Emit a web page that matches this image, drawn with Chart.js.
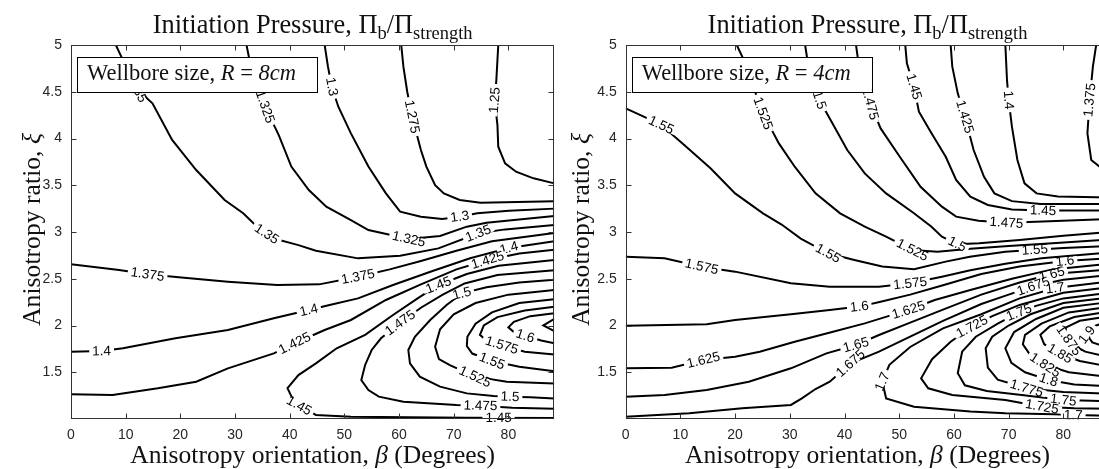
<!DOCTYPE html>
<html>
<head>
<meta charset="utf-8">
<script src="https://cdn.jsdelivr.net/npm/chart.js@4.4.1/dist/chart.umd.min.js"></script>
<style>
    html, body { margin: 0; padding: 0; background: #fff; }
    #wrap { position: relative; width: 1099px; height: 469px; overflow: hidden; }
    canvas { position: absolute; top: 0; }
    #leftChart { left: 0; }
    #rightChart { left: 549px; }
</style>
</head>
<body>
<div id="wrap">
    <canvas id="leftChart" width="560" height="469"></canvas>
    <canvas id="rightChart" width="561" height="469"></canvas>
</div>
<script>
// axes
const xTicks = [0, 10, 20, 30, 40, 50, 60, 70, 80];
const yTicks = [1.5, 2, 2.5, 3, 3.5, 4, 4.5, 5];
const xMin = 0, xMax = 88.4, yMin = 1, yMax = 5;

// Left panel (R = 8cm): contour lines as [beta, xi]
const left_1250 = [[78.15,5],[77.8,4.625],[77.5,4.41],[78.0,4.144],[78.15,3.912],[79.4,3.734],[81.4,3.645],[84.6,3.574],[88.4,3.52]];
const left_1275 = [[60.4,5],[60.8,4.768],[61.5,4.5],[62.4,4.233],[64.0,3.877],[65.0,3.70],[66.6,3.50],[68.2,3.413],[71.1,3.342],[74.9,3.313],[88.4,3.33]];
const left_1300 = [[46.4,5],[47.0,4.768],[47.7,4.554],[48.9,4.34],[51.2,4.055],[54.4,3.70],[57.6,3.413],[60.2,3.217],[64.0,3.164],[67.9,3.139],[71.1,3.164],[74.3,3.20],[80.1,3.228],[88.4,3.25]];
const left_1325 = [[32.1,5],[32.9,4.768],[35.5,4.34],[38.0,4.037],[40.3,3.70],[43.5,3.449],[46.7,3.271],[51.2,3.128],[54.4,3.021],[61.8,2.925],[67.5,2.957],[72.4,3.057],[76.0,3.10],[88.4,3.17]];
const left_1350 = [[8.2,5],[9.2,4.875],[12.2,4.52],[14.9,4.376],[18.5,3.984],[22.9,3.663],[28.1,3.342],[31.5,3.2],[34.5,3.03],[37.1,2.93],[41.6,2.86],[44.8,2.8],[52.5,2.718],[60.2,2.747],[67.2,2.825],[74.5,2.986],[79.4,3.028],[88.4,3.075]];
const left_1375 = [[0,2.654],[8.8,2.594],[14,2.547],[19.7,2.515],[28.7,2.469],[37.7,2.433],[45.4,2.44],[52.5,2.522],[58.3,2.6],[64,2.69],[70.5,2.8],[77,2.9],[88.4,2.99]];
const left_1400 = [[0,1.72],[5.6,1.727],[9.5,1.756],[19.1,1.863],[28.7,1.952],[37.1,2.077],[43.5,2.166],[47.3,2.22],[52.5,2.29],[58.9,2.433],[66,2.58],[73,2.72],[80.1,2.83],[88.4,2.9]];
const left_1425 = [[0,1.264],[7.6,1.257],[15.9,1.328],[22.9,1.399],[28.7,1.542],[37.1,1.702],[40.9,1.81],[46.4,1.952],[51.2,2.059],[57.6,2.273],[64,2.44],[70.5,2.6],[76.2,2.7],[82,2.77],[88.4,2.81]];
const left_1450 = [[88.4,2.70],[78.2,2.64],[72.4,2.55],[67.2,2.433],[63.4,2.29],[58.9,2.112],[53.8,1.90],[48.6,1.756],[44.8,1.595],[41.6,1.47],[39.6,1.33],[40.9,1.17],[44.8,1.043],[51.2,1.025],[72.4,1.014],[88.4,1.01]];
const left_1475 = [[88.4,2.59],[78,2.54],[72,2.45],[68,2.33],[64,2.19],[60.2,2.03],[56.7,1.863],[55.0,1.738],[53.8,1.578],[53.1,1.417],[54.4,1.31],[56.3,1.239],[60.8,1.185],[70.5,1.15],[74.9,1.143],[80.7,1.121],[88.4,1.11]];
const left_1500 = [[88.4,2.49],[82,2.46],[76,2.41],[71.5,2.344],[68.7,2.219],[65.7,2.059],[62.9,1.88],[61.7,1.738],[62.0,1.595],[63.8,1.453],[67.5,1.346],[72.4,1.274],[77.3,1.246],[80.3,1.239],[84,1.232],[88.4,1.22]];
const left_1525 = [[88.4,2.38],[80,2.33],[74,2.24],[70,2.12],[67.5,1.96],[66.6,1.773],[67.3,1.64],[69.3,1.577],[73.9,1.453],[79.7,1.399],[88.4,1.38]];
const left_1550 = [[88.4,2.28],[82,2.24],[77,2.14],[74,2.02],[72.5,1.88],[72.4,1.78],[73.4,1.70],[77,1.62],[82,1.56],[88.4,1.51]];
const left_1575 = [[88.4,2.2],[83,2.16],[78,2.09],[75.5,2.0],[74.8,1.9],[76,1.84],[78.8,1.79],[83,1.72],[88.4,1.69]];
const left_1600 = [[88.4,2.13],[84,2.1],[81,2.04],[80,1.98],[81,1.93],[83.1,1.89],[86,1.84],[88.4,1.81]];
const left_1625 = [[88.4,2.07],[86.4,2.0],[88.4,1.94]];

// [level, beta, xi] where the inline label sits
const leftLabels = [
    [1.25,77.5,4.41], [1.275,62.4,4.233], [1.3,47.7,4.554], [1.3,71.1,3.164],
    [1.325,35.5,4.34], [1.325,61.8,2.925], [1.35,12.2,4.52], [1.35,35.8,2.98], [1.35,74.5,2.986],
    [1.375,14,2.547], [1.375,52.5,2.522], [1.4,5.6,1.727], [1.4,43.5,2.166], [1.4,80.1,2.83],
    [1.425,40.9,1.81], [1.425,76.2,2.7], [1.45,67.2,2.433], [1.45,41.5,1.12], [1.45,78.2,1.014],
    [1.475,60.2,2.03], [1.475,74.9,1.143], [1.5,71.5,2.344], [1.5,80.3,1.239],
    [1.525,73.9,1.453], [1.55,77,1.62], [1.575,78.8,1.79], [1.6,83.1,1.89]
];

// Right panel (R = 4cm)
const right_1375 = [[86,5],[85.4,4.768],[84.8,4.412],[84.4,4.055],[85.1,3.77],[86.6,3.70],[88.4,3.68]];
const right_1400 = [[69.4,5],[69.7,4.625],[70,4.412],[70.6,4.126],[71.6,3.77],[72.9,3.52],[75.1,3.413],[79,3.38],[88.4,3.37]];
const right_1425 = [[59.4,5],[59.7,4.768],[60.7,4.483],[62,4.233],[63.6,3.877],[65.5,3.591],[67.4,3.413],[70.6,3.33],[75.8,3.3],[88.4,3.3]];
const right_1450 = [[51.1,5],[51.4,4.804],[52.7,4.554],[53.6,4.287],[55.9,4.055],[58.5,3.805],[60.4,3.556],[63,3.378],[66.2,3.289],[70.6,3.24],[76.3,3.23],[88.4,3.23]];
const right_1475 = [[42.1,5],[42.4,4.875],[44.7,4.376],[46.6,4.108],[50.1,3.805],[53.9,3.484],[57.8,3.271],[60.4,3.164],[64.5,3.12],[69.6,3.1],[75,3.11],[88.4,3.14]];
const right_1500 = [[32.8,5],[33.4,4.768],[35.4,4.412],[37.3,4.215],[40.5,3.877],[43.7,3.627],[47.6,3.413],[52.7,3.2],[55.9,3.057],[57.8,2.95],[60.6,2.87],[64.6,2.879],[72,2.915],[80,2.96],[88.4,3.0]];
const right_1525 = [[20.3,5],[21.3,4.875],[25.1,4.269],[28,3.948],[30.9,3.698],[34.7,3.413],[39.2,3.2],[43.7,3.057],[47.6,2.95],[52.4,2.808],[57,2.79],[63,2.82],[70,2.85],[78,2.88],[88.4,2.92]];
const right_1550 = [[0,4.322],[3.3,4.233],[6.5,4.144],[10.7,3.93],[15.5,3.681],[20,3.413],[25.1,3.2],[28.5,3.08],[32,2.93],[37,2.772],[41.8,2.701],[46.9,2.63],[52.7,2.601],[58.5,2.683],[62.9,2.736],[69.4,2.79],[74.8,2.81],[80,2.83],[88.4,2.85]];
const right_1575 = [[0,2.736],[7.1,2.718],[13.9,2.629],[20,2.576],[30.2,2.451],[37.3,2.415],[46.3,2.415],[52,2.451],[57.8,2.522],[63,2.59],[69.4,2.66],[76,2.72],[88.4,2.78]];
const right_1600 = [[0,1.998],[14.8,2.013],[20,2.059],[30.2,2.12],[37.3,2.166],[42.7,2.202],[46.6,2.255],[52,2.33],[58,2.43],[65,2.55],[72,2.63],[80.3,2.69],[88.4,2.72]];
const right_1625 = [[0,1.542],[8.4,1.549],[14.2,1.631],[20,1.667],[24.5,1.72],[30.9,1.827],[37.9,1.934],[43.7,2.023],[48,2.1],[51.7,2.166],[56.5,2.273],[63,2.38],[70.6,2.5],[78,2.6],[88.4,2.66]];
const right_1650 = [[0,1.239],[7.1,1.257],[14.8,1.31],[22.5,1.399],[30.2,1.542],[36.7,1.702],[42.1,1.792],[46.3,1.898],[52,2.03],[58,2.17],[65,2.33],[72,2.46],[77.9,2.55],[88.4,2.6]];
const right_1675 = [[0,1.025],[11.6,1.061],[21.3,1.114],[30.2,1.15],[32.2,1.221],[34.7,1.321],[37.3,1.399],[41.1,1.595],[46.3,1.72],[52,1.88],[58,2.05],[65,2.23],[70,2.33],[74.5,2.42],[80,2.49],[88.4,2.54]];
const right_1700 = [[88.4,2.47],[78.5,2.40],[72,2.29],[65,2.12],[58,1.97],[52,1.77],[48.2,1.58],[46.9,1.40],[47.6,1.221],[52.7,1.132],[63,1.079],[69.4,1.061],[78.3,1.05],[81.8,1.042],[88.4,1.035]];
const right_1725 = [[88.4,2.41],[80,2.35],[72,2.22],[67,2.1],[63.3,1.988],[59.4,1.827],[56,1.64],[54,1.435],[55.3,1.328],[59.7,1.257],[69.4,1.203],[76.1,1.132],[82,1.115],[88.4,1.11]];
const right_1750 = [[88.4,2.35],[80,2.29],[75,2.21],[71.9,2.14],[68,2.02],[64,1.88],[61.5,1.72],[60.7,1.49],[62,1.36],[66,1.3],[72,1.26],[80,1.203],[88.4,1.19]];
const right_1775 = [[88.4,2.3],[80,2.24],[74,2.12],[70,2.0],[67,1.88],[65.8,1.756],[66.2,1.55],[68,1.42],[73.3,1.328],[80,1.29],[88.4,1.27]];
const right_1800 = [[88.4,2.25],[80,2.19],[75,2.07],[71,1.93],[69.4,1.756],[70.5,1.6],[73,1.5],[77.3,1.417],[82,1.37],[88.4,1.35]];
const right_1825 = [[88.4,2.2],[81,2.14],[76,2.02],[73,1.9],[72.6,1.8],[74,1.68],[76.7,1.577],[81,1.5],[88.4,1.45]];
const right_1850 = [[88.4,2.15],[82,2.09],[77.5,1.99],[75.8,1.9],[76.5,1.8],[79.4,1.70],[83,1.62],[88.4,1.56]];
const right_1875 = [[88.4,2.1],[83,2.05],[80.5,1.98],[80.3,1.9],[81.5,1.8],[84,1.72],[88.4,1.66]];
const right_1900 = [[88.4,2.05],[85.5,1.99],[84.3,1.9],[85.3,1.82],[88.4,1.76]];

const rightLabels = [
    [1.375,84.8,4.412], [1.4,70,4.412], [1.425,62,4.233], [1.45,52.7,4.554], [1.45,76.3,3.23],
    [1.475,44.7,4.376], [1.475,69.6,3.1], [1.5,35.4,4.412], [1.5,60.6,2.87],
    [1.525,25.1,4.269], [1.525,52.4,2.808], [1.55,6.5,4.144], [1.55,37,2.772], [1.55,74.8,2.81],
    [1.575,13.9,2.629], [1.575,52,2.451], [1.6,42.7,2.202], [1.6,80.3,2.69],
    [1.625,14.2,1.631], [1.625,51.7,2.166], [1.65,42.1,1.792], [1.65,77.9,2.55],
    [1.675,41.1,1.595], [1.675,74.5,2.42], [1.7,46.9,1.40], [1.7,78.5,2.40], [1.7,81.8,1.042],
    [1.725,63.3,1.988], [1.725,76.1,1.132], [1.75,71.9,2.14], [1.75,80,1.203], [1.775,73.3,1.328],
    [1.8,77.3,1.417], [1.825,76.7,1.577], [1.85,79.4,1.70], [1.875,81.2,1.85], [1.9,84.3,1.9]
];

const leftSets = [
    [1.25, left_1250], [1.275, left_1275], [1.3, left_1300], [1.325, left_1325], [1.35, left_1350],
    [1.375, left_1375], [1.4, left_1400], [1.425, left_1425], [1.45, left_1450], [1.475, left_1475],
    [1.5, left_1500], [1.525, left_1525], [1.55, left_1550], [1.575, left_1575], [1.6, left_1600], [1.625, left_1625]
];
const rightSets = [
    [1.375, right_1375], [1.4, right_1400], [1.425, right_1425], [1.45, right_1450], [1.475, right_1475],
    [1.5, right_1500], [1.525, right_1525], [1.55, right_1550], [1.575, right_1575], [1.6, right_1600],
    [1.625, right_1625], [1.65, right_1650], [1.675, right_1675], [1.7, right_1700], [1.725, right_1725],
    [1.75, right_1750], [1.775, right_1775], [1.8, right_1800], [1.825, right_1825], [1.85, right_1850],
    [1.875, right_1875], [1.9, right_1900]
];

const SERIF = '"Liberation Serif", "Times New Roman", serif';
const SANS = '"Liberation Sans", Arial, Helvetica, sans-serif';

const titleRuns = [{ t: 'Initiation Pressure, Π' }, { t: 'b', sub: true }, { t: '/Π' }, { t: 'strength', sub: true }];
const xTitleRuns = [{ t: 'Anisotropy orientation, ' }, { t: 'β', it: true }, { t: ' (Degrees)' }];
const yTitleRuns = [{ t: 'Anisotropy ratio, ' }, { t: 'ξ', it: true }];

function runFont(r, size) {
    const s = r.sub ? size * 0.7 : size;
    return (r.it ? 'italic ' : '') + s + 'px ' + SERIF;
}

function measureRuns(ctx, runs, size) {
    let w = 0;
    runs.forEach(r => { ctx.font = runFont(r, size); w += ctx.measureText(r.t).width; });
    return w;
}

// draws mixed text, scaled so it spans the given width
function drawRunsFit(ctx, runs, x, y, target, align) {
    const size = 20 * target / measureRuns(ctx, runs, 20);
    const w = measureRuns(ctx, runs, size);
    let cx = align === 'center' ? x - w / 2 : x;
    ctx.fillStyle = '#111';
    ctx.textAlign = 'left';
    ctx.textBaseline = 'alphabetic';
    runs.forEach(r => {
        ctx.font = runFont(r, size);
        ctx.fillText(r.t, cx, y + (r.sub ? size * 0.24 : 0));
        cx += ctx.measureText(r.t).width;
    });
}

const contourDecor = {
    id: 'contourDecor',
    afterDatasetsDraw(chart, args, opts) {
        const { ctx, scales: { x, y } } = chart;
        ctx.save();
        ctx.font = '13.5px ' + SANS;
        ctx.textAlign = 'center';
        ctx.textBaseline = 'middle';
        opts.labels.forEach(([lvl, bx, by]) => {
            const ds = chart.data.datasets.find(d => d.level === lvl);
            if (!ds) return;
            const px = x.getPixelForValue(bx), py = y.getPixelForValue(by);
            const pts = ds.data.map(p => [x.getPixelForValue(p.x), y.getPixelForValue(p.y)]);
            let best = { d: 1e9 };
            for (let i = 0; i < pts.length - 1; i++) {
                const [x1, y1] = pts[i], [x2, y2] = pts[i + 1];
                const dx = x2 - x1, dy = y2 - y1, len = dx * dx + dy * dy;
                let t = len ? ((px - x1) * dx + (py - y1) * dy) / len : 0;
                t = Math.max(0, Math.min(1, t));
                const qx = x1 + t * dx, qy = y1 + t * dy;
                const d = Math.hypot(px - qx, py - qy);
                if (d < best.d) best = { d, qx, qy, ang: Math.atan2(dy, dx) };
            }
            let ang = best.ang;
            if (ang > Math.PI / 2) ang -= Math.PI;
            if (ang < -Math.PI / 2) ang += Math.PI;
            const txt = String(lvl);
            const w = ctx.measureText(txt).width;
            ctx.save();
            ctx.translate(best.qx, best.qy);
            ctx.rotate(ang);
            ctx.fillStyle = '#fff';
            ctx.fillRect(-w / 2 - 3, -3.5, w + 6, 7);
            ctx.fillStyle = '#000';
            ctx.fillText(txt, 0, 0.5);
            ctx.restore();
        });
        ctx.restore();
    },
    afterDraw(chart, args, opts) {
        const { ctx, chartArea: a, scales: { x, y } } = chart;
        ctx.save();
        // axes box with inward ticks
        const L = Math.round(a.left) + 0.5, R = Math.round(a.right) - 0.5;
        const T = Math.round(a.top) + 0.5, B = Math.round(a.bottom) - 0.5;
        ctx.strokeStyle = '#333';
        ctx.lineWidth = 1;
        ctx.strokeRect(L, T, R - L, B - T);
        ctx.beginPath();
        xTicks.forEach(v => {
            const p = Math.round(x.getPixelForValue(v)) + 0.5;
            ctx.moveTo(p, B); ctx.lineTo(p, B - 5);
            ctx.moveTo(p, T); ctx.lineTo(p, T + 5);
        });
        yTicks.forEach(v => {
            const p = Math.round(y.getPixelForValue(v)) + 0.5;
            ctx.moveTo(L, p); ctx.lineTo(L + 5, p);
            ctx.moveTo(R, p); ctx.lineTo(R - 5, p);
        });
        ctx.stroke();

        // text box
        ctx.fillStyle = '#fff';
        ctx.fillRect(a.left + 6, 57, 240, 36);
        ctx.strokeStyle = '#000';
        ctx.strokeRect(Math.round(a.left + 6) + 0.5, 57.5, 240, 35);
        drawRunsFit(ctx, opts.boxRuns, a.left + 16, 79.5, 209, 'left');

        // titles
        const cx = (a.left + a.right) / 2;
        drawRunsFit(ctx, titleRuns, cx, 33, 320, 'center');
        drawRunsFit(ctx, xTitleRuns, cx, 463, 365, 'center');
        ctx.save();
        ctx.translate(40, (a.top + a.bottom) / 2 - 2.5);
        ctx.rotate(-Math.PI / 2);
        drawRunsFit(ctx, yTitleRuns, 0, 0, 193, 'center');
        ctx.restore();
        ctx.restore();
    }
};

function contourDatasets(sets) {
    return sets.map(([lvl, pts]) => ({
        label: String(lvl),
        level: lvl,
        data: pts.map(([bx, by]) => ({ x: bx, y: by })),
        showLine: true,
        borderColor: '#000',
        borderWidth: 2,
        pointRadius: 0,
        pointHoverRadius: 0,
        fill: false,
        tension: 0
    }));
}

function makeChart(id, sets, labels, boxRuns, plotLeft, rightPad) {
    const tickFont = { family: SANS, size: 14 };
    return new Chart(document.getElementById(id), {
        type: 'scatter',
        data: { datasets: contourDatasets(sets) },
        options: {
            responsive: false,
            animation: false,
            devicePixelRatio: 1,
            layout: { padding: { top: 45, right: rightPad, bottom: 0, left: 0 } },
            scales: {
                x: {
                    type: 'linear', min: xMin, max: xMax,
                    afterBuildTicks: s => { s.ticks = xTicks.map(v => ({ value: v })); },
                    afterFit: s => { s.height = 50; },
                    grid: { display: false, drawTicks: false },
                    border: { display: false },
                    ticks: { color: '#262626', font: tickFont, padding: 8, autoSkip: false, maxRotation: 0,
                        callback: v => String(v) }
                },
                y: {
                    type: 'linear', min: yMin, max: yMax,
                    afterBuildTicks: s => { s.ticks = yTicks.map(v => ({ value: v })); },
                    afterFit: s => { s.width = plotLeft; },
                    grid: { display: false, drawTicks: false },
                    border: { display: false },
                    ticks: { color: '#262626', font: tickFont, padding: 9, autoSkip: false,
                        callback: v => String(v) }
                }
            },
            plugins: {
                legend: { display: false },
                tooltip: { enabled: false },
                contourDecor: { labels: labels, boxRuns: boxRuns }
            }
        },
        plugins: [contourDecor]
    });
}

makeChart('leftChart', leftSets, leftLabels,
    [{ t: 'Wellbore size, ' }, { t: 'R', it: true }, { t: ' = ' }, { t: '8cm', it: true }], 71, 5.7);
makeChart('rightChart', rightSets, rightLabels,
    [{ t: 'Wellbore size, ' }, { t: 'R', it: true }, { t: ' = ' }, { t: '4cm', it: true }], 76.7, 0.7);
</script>
</body>
</html>
